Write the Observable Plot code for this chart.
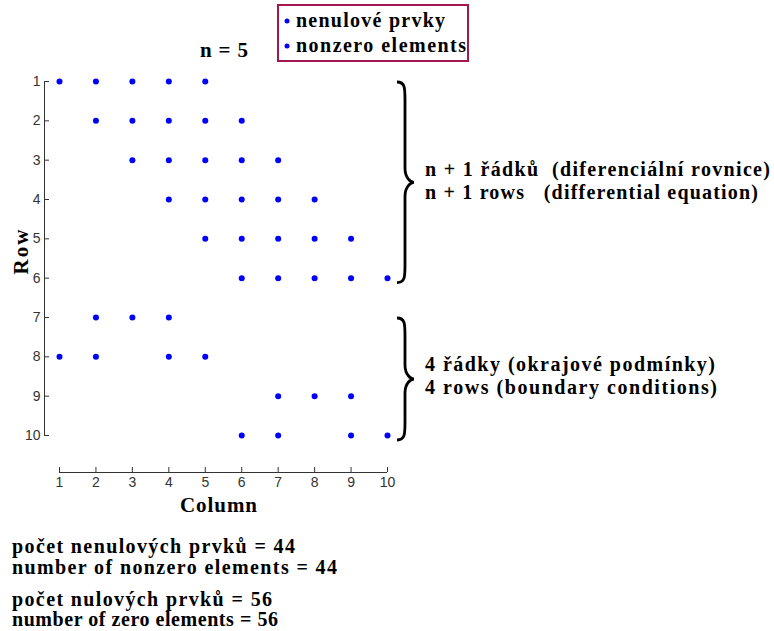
<!DOCTYPE html>
<html>
<head>
<meta charset="utf-8">
<script src="https://cdn.jsdelivr.net/npm/d3@7"></script>
<script src="https://cdn.jsdelivr.net/npm/@observablehq/plot@0.6"></script>
<style>
  html, body { margin: 0; padding: 0; background: #fff; }
  #wrap { position: relative; width: 774px; height: 631px; overflow: hidden; }
  .ann { font-family: "Times New Roman", "Liberation Serif", serif; font-weight: bold; fill: #000; }
</style>
</head>
<body>
<div id="wrap"></div>
<script>
// ---- data ----
const nValue = 5;
const rowLabels = [1, 2, 3, 4, 5, 6, 7, 8, 9, 10];
const colLabels = [1, 2, 3, 4, 5, 6, 7, 8, 9, 10];
// nonzero columns per row
const nonzeroCols = [
  [1, 2, 3, 4, 5],
  [2, 3, 4, 5, 6],
  [3, 4, 5, 6, 7],
  [4, 5, 6, 7, 8],
  [5, 6, 7, 8, 9],
  [6, 7, 8, 9, 10],
  [2, 3, 4],
  [1, 2, 4, 5],
  [7, 8, 9],
  [6, 7, 9, 10]
];
const groups = [
  {from: 1, to: 6, lines: ["n + 1 řádků  (diferenciální rovnice)", "n + 1 rows   (differential equation)"]},
  {from: 7, to: 10, lines: ["4 řádky (okrajové podmínky)", "4 rows (boundary conditions)"]}
];
const legendLabels = ["nenulové prvky", "nonzero elements"];

const points = nonzeroCols.flatMap((cols, i) => cols.map(c => ({row: rowLabels[i], col: c})));
const nnz = points.length;
const nzero = rowLabels.length * colLabels.length - nnz;

function braceMark(g) {
  return (index, scales, values, dims) => {
    const y0 = scales.y(g.from) + 1, y1 = scales.y(g.to) + 5, ym = (y0 + y1) / 2;
    const x0 = scales.x(10) + 10, x1 = x0 + 8, xt = x0 + 17;
    const p = `M${x0},${y0} C${x1},${y0} ${x1},${y0+6} ${x1},${y0+18} L${x1},${ym-14} C${x1},${ym-4} ${xt-3},${ym} ${xt},${ym} C${xt-3},${ym} ${x1},${ym+4} ${x1},${ym+14} L${x1},${y1-18} C${x1},${y1-6} ${x1},${y1} ${x0},${y1}`;
    return d3.create("svg:path").attr("d", p).attr("fill", "none").attr("stroke", "#000").attr("stroke-width", 2.8).node();
  };
}

const chart = Plot.plot({
  width: 774,
  height: 631,
  marginLeft: 59,
  marginRight: 387,
  marginTop: 81,
  marginBottom: 196,
  style: {fontFamily: "Liberation Sans, Arial, sans-serif", fontSize: "13px", color: "#333", background: "#fff"},
  x: {domain: [1, 10]},
  y: {domain: [1, 10], reverse: true},
  marks: [
    Plot.axisY({ticks: rowLabels, dx: -10, tickSize: 5, tickPadding: 4, label: null, tickFormat: d => d, fontSize: 14}),
    Plot.ruleX([1], {y1: 1, y2: 10, dx: -15, stroke: "#333"}),
    Plot.axisX({ticks: colLabels, anchor: "bottom", dy: 32, tickSize: 5, tickPadding: 5, label: null, tickFormat: d => d, fontSize: 14}),
    Plot.ruleY([10], {x1: 1, x2: 10, dy: 37, stroke: "#333"}),
    Plot.dot(points, {x: "col", y: "row", r: 3, fill: "#0000ff", stroke: "none"}),
    ...groups.map(braceMark)
  ]
});
document.getElementById("wrap").appendChild(chart);

const svg = d3.select(chart);
const ann = svg.append("g").attr("class", "ann").attr("text-anchor", "start");
function addText(txt, x, baseline, size, width, transform) {
  const t = ann.append("text")
    .attr("x", x).attr("y", baseline)
    .attr("font-size", size)
    .attr("text-anchor", transform ? "middle" : "start")
    .attr("textLength", width).attr("lengthAdjust", "spacing")
    .text(txt);
  if (transform) t.attr("transform", transform);
  return t;
}

// title
addText("n = " + nValue, 200, 57, 21, 48);
// legend
ann.append("rect").attr("x", 278).attr("y", 5).attr("width", 190).attr("height", 56)
  .attr("fill", "#fff").attr("stroke", "#a3174f").attr("stroke-width", 2);
legendLabels.forEach((l, i) => {
  const b = 27 + i * 25;
  ann.append("circle").attr("cx", 287).attr("cy", b - 6).attr("r", 2.5).attr("fill", "#0000ff");
  addText(l, 296, b, 20, i === 0 ? 149 : 170);
});
// axis labels
addText("Column", 180, 512, 21, 77);
addText("Row", 0, 0, 21, 45, "translate(28,252) rotate(-90)");
// brace annotations
addText(groups[0].lines[0], 425, 176, 20, 345);
addText(groups[0].lines[1], 425, 199, 20, 333);
addText(groups[1].lines[0], 425, 371, 20, 290);
addText(groups[1].lines[1], 425, 394, 20, 292);
// counts
addText("počet nenulových prvků = " + nnz, 12, 553, 20, 283);
addText("number of nonzero elements = " + nnz, 12, 574, 20, 325);
addText("počet nulových prvků = " + nzero, 12, 606, 20, 260);
addText("number of zero elements = " + nzero, 12, 626, 20, 266);
</script>
</body>
</html>
